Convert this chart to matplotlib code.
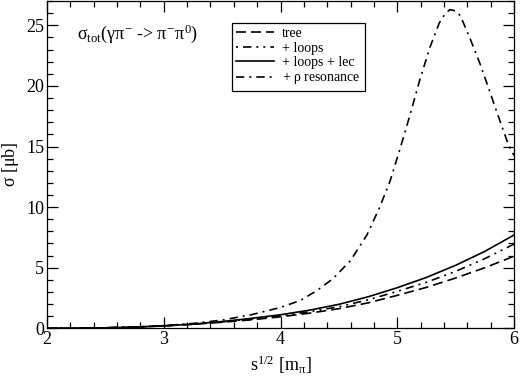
import matplotlib
matplotlib.use("Agg")
import matplotlib.pyplot as plt
import numpy as np
from matplotlib.ticker import MultipleLocator

plt.rcParams['font.family'] = ['Liberation Serif', 'DejaVu Serif']
plt.rcParams['mathtext.fontset'] = 'custom'
plt.rcParams['mathtext.rm'] = 'Liberation Serif'
plt.rcParams['mathtext.it'] = 'Liberation Serif'
plt.rcParams['mathtext.bf'] = 'Liberation Serif:bold'

# data
x_low = [2.0, 2.25, 2.5, 2.75, 3.0, 3.25, 3.5, 3.75, 4.0, 4.25, 4.5, 4.75, 5.0, 5.25, 5.5, 5.75, 6.0]
tree = [0.0, 0.01, 0.04, 0.1, 0.2, 0.33, 0.5, 0.7, 0.95, 1.25, 1.62, 2.1, 2.72, 3.38, 4.15, 5.0, 5.95]
loops = [0.0, 0.01, 0.04, 0.1, 0.2, 0.34, 0.53, 0.76, 1.03, 1.37, 1.78, 2.35, 3.05, 3.8, 4.7, 5.75, 6.95]
loops_lec = [0.0, 0.01, 0.04, 0.1, 0.2, 0.35, 0.56, 0.82, 1.12, 1.5, 1.98, 2.6, 3.35, 4.2, 5.2, 6.35, 7.7]

x_rho = [2.0, 2.25, 2.5, 2.75, 3.0, 3.25, 3.5, 3.75, 4.0, 4.17, 4.31, 4.45, 4.6, 4.74, 4.85,
         4.94, 5.02, 5.1, 5.19, 5.28, 5.36, 5.41, 5.45, 5.5, 5.54, 5.62, 5.71, 5.79, 5.88, 5.95, 6.0]
rho = [0.0, 0.01, 0.04, 0.1, 0.22, 0.4, 0.68, 1.12, 1.72, 2.3, 3.1, 4.1, 5.6, 7.7, 10.0,
       12.2, 14.7, 17.3, 20.4, 23.2, 25.2, 25.95, 26.3, 26.2, 25.8, 24.0, 21.8, 19.6, 17.1, 15.2, 14.25]

labels = ['tree', '+ loops', '+ loops + lec', r'+ $\rho$ resonance']

fig = plt.figure(figsize=(5.2, 3.81), dpi=100)
ax = fig.add_axes([0.0904, 0.1383, 0.8981, 0.8587])

lw = 1.2
ax.plot(x_low, tree, color='black', lw=lw, linestyle=(0, (6, 3)), label=labels[0])
ax.plot(x_low, loops, color='black', lw=lw, linestyle=(0, (1.2, 3, 5, 3, 1.2, 3)), label=labels[1])
ax.plot(x_low, loops_lec, color='black', lw=lw, linestyle='-', label=labels[2])
ax.plot(x_rho, rho, color='black', lw=lw, linestyle=(0, (5, 3, 1.2, 3)), label=labels[3])

ax.set_xlim(2, 6)
ax.set_ylim(0, 27)
ax.xaxis.set_major_locator(MultipleLocator(1))
ax.xaxis.set_minor_locator(MultipleLocator(0.2))
ax.yaxis.set_major_locator(MultipleLocator(5))
ax.yaxis.set_minor_locator(MultipleLocator(1))
ax.tick_params(which='both', direction='in', top=True, right=True, labelsize=13, width=0.9)
ax.tick_params(which='major', length=8, pad=2)
ax.tick_params(which='minor', length=4.5)
for s in ax.spines.values():
    s.set_linewidth(0.9)

ax.set_xlabel(r'$\mathrm{s}^{1/2}$ [$\mathrm{m}_{\pi}$]', fontsize=13, labelpad=4)
ax.set_ylabel(r'$\sigma$ [$\mu$b]', fontsize=13, labelpad=4)

ax.text(0.065, 0.90, r'$\sigma_{\mathrm{tot}}(\gamma\pi^{-}$ -> $\pi^{-}\pi^{0})$',
        transform=ax.transAxes, fontsize=13, ha='left', va='center')

leg = ax.legend(loc='upper left', bbox_to_anchor=(0.396, 0.933), fontsize=10,
                frameon=True, fancybox=False, edgecolor='black', framealpha=1,
                handlelength=2.7, handletextpad=0.6, labelspacing=0.1,
                borderpad=0.3, borderaxespad=0.0)
leg.get_frame().set_linewidth(0.9)

fig.savefig('out.png', dpi=100)
